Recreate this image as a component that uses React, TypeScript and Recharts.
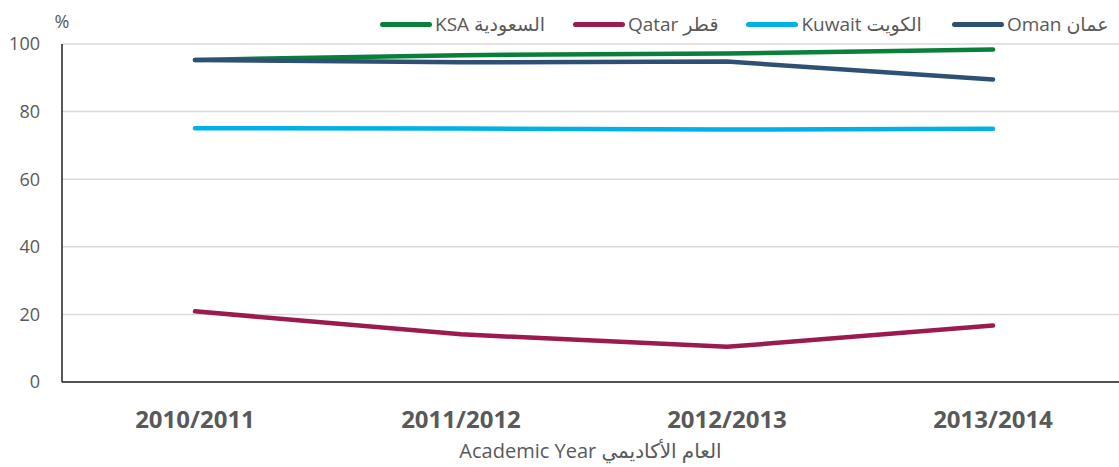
import { LineChart, Line, XAxis, YAxis, CartesianGrid, Legend } from 'recharts'

const years = ['2010/2011', '2011/2012', '2012/2013', '2013/2014']
const ksa = [95.3, 96.7, 97.2, 98.4]
const qatar = [20.9, 14.1, 10.4, 16.7]
const kuwait = [75.1, 75.0, 74.7, 74.9]
const oman = [95.3, 94.6, 94.8, 89.5]
const yTicks = [0, 20, 40, 60, 80, 100]

const SERIES = [
  { key: 'ksa', name: 'KSA السعودية', color: '#0a7f3a' },
  { key: 'qatar', name: 'Qatar قطر', color: '#9b1a4f' },
  { key: 'kuwait', name: 'Kuwait الكويت', color: '#00b0e6' },
  { key: 'oman', name: 'Oman عمان', color: '#2e5075' },
]

const data = years.map((year, i) => ({
  year,
  ksa: ksa[i],
  qatar: qatar[i],
  kuwait: kuwait[i],
  oman: oman[i],
}))

const FONT = '"Open Sans", "DejaVu Sans", sans-serif'
const GREY = '#595959'

function LegendRow() {
  const gaps = [0, 28, 28, 30]
  return (
    <div style={{ display: 'flex', alignItems: 'center', fontFamily: FONT, fontSize: 19, color: GREY }}>
      {SERIES.map((s, i) => (
        <span key={s.key} style={{ display: 'flex', alignItems: 'center', marginLeft: gaps[i] }}>
          <span style={{ width: 52, height: 5, borderRadius: 3, background: s.color, display: 'inline-block', marginRight: 3 }} />
          <span>{s.name}</span>
        </span>
      ))}
    </div>
  )
}

export default function App() {
  return (
    <div style={{ position: 'absolute', left: 0, top: 0, background: '#fff' }}>
      <LineChart width={1119} height={467} data={data} margin={{ top: 44, right: 0, left: 0, bottom: 0 }}>
        <CartesianGrid vertical={false} stroke="#d9d9d9" strokeWidth={1.5} />
        <XAxis
          dataKey="year"
          height={85}
          padding={{ left: 133, right: 126 }}
          axisLine={{ stroke: '#222', strokeWidth: 1.5 }}
          tickLine={false}
          tickMargin={23}
          tick={{ fill: GREY, fontSize: 24, fontWeight: 700, fontFamily: FONT }}
          label={{ value: 'Academic Year  العام الأكاديمي', position: 'insideBottom', offset: 9, fill: GREY, fontSize: 20, fontFamily: FONT }}
        />
        <YAxis
          width={62}
          domain={[0, 100]}
          ticks={yTicks}
          axisLine={{ stroke: '#222', strokeWidth: 1.5 }}
          tickLine={false}
          tickMargin={16}
          tick={{ fill: GREY, fontSize: 18, fontFamily: FONT }}
          label={{ value: '%', position: 'top', offset: 16, dx: 31, fill: GREY, fontSize: 18, fontFamily: FONT }}
        />
        <Legend
          verticalAlign="middle"
          layout="horizontal"
          wrapperStyle={{ top: 11, left: 380, width: 739 }}
          content={() => <LegendRow />}
        />
        {SERIES.map((s) => (
          <Line
            key={s.key}
            type="linear"
            dataKey={s.key}
            name={s.name}
            stroke={s.color}
            strokeWidth={4.5}
            strokeLinecap="round"
            dot={false}
            activeDot={false}
            isAnimationActive={false}
          />
        ))}
      </LineChart>
    </div>
  )
}
